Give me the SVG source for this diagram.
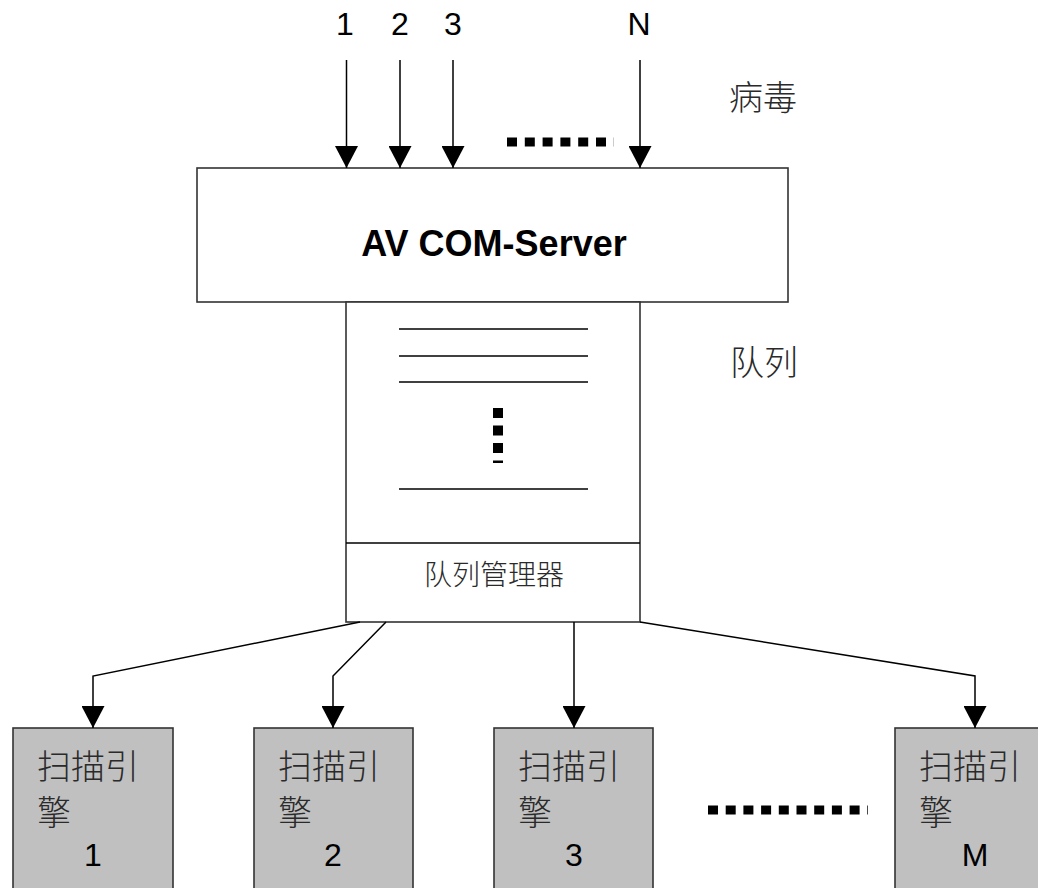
<svg xmlns="http://www.w3.org/2000/svg" width="1038" height="888" viewBox="0 0 1038 888">
<style>
.box{fill:#fff;stroke:#333;stroke-width:1.6}
.eng{fill:#c0c0c0;stroke:#333;stroke-width:1.6}
.ln{stroke:#000;stroke-width:1.5;fill:none}
.conn{stroke:#000;stroke-width:1.5;fill:none;marker-end:url(#ah)}
.dots{stroke:#000;fill:none}
.lat{font-family:"Liberation Sans",Arial,sans-serif;fill:#000}
.cjk{font-family:"Noto Sans CJK SC","Liberation Sans",sans-serif;font-weight:300;fill:#2a2a2a}
</style>
<defs>
<marker id="ah" viewBox="0 0 22 23" refX="22" refY="11.5" markerWidth="22" markerHeight="23" markerUnits="userSpaceOnUse" orient="auto">
<path d="M0,0 L22,11.5 L0,23 z" fill="#000"/>
</marker>
</defs>

<g id="input-labels">
<text class="lat" x="345" y="35" font-size="32" text-anchor="middle">1</text>
<text class="lat" x="400" y="35" font-size="32" text-anchor="middle">2</text>
<text class="lat" x="453" y="35" font-size="32" text-anchor="middle">3</text>
<text class="lat" x="639" y="35" font-size="32" text-anchor="middle">N</text>
<line class="dots" x1="507" y1="142" x2="614" y2="142" stroke-width="9" stroke-dasharray="10 7.8"/>
</g>

<g id="label-virus">
<text class="cjk" x="729" y="110" font-size="34">病毒</text>
</g>
<g id="label-queue">
<text class="cjk" x="730" y="375" font-size="34">队列</text>
</g>

<g id="av-com-server">
<rect class="box" x="197" y="168" width="591" height="134"/>
<text class="lat" x="494" y="256" font-size="36" font-weight="bold" text-anchor="middle">AV COM-Server</text>
</g>

<g id="queue">
<rect class="box" x="346" y="302" width="294" height="320"/>
<line class="ln" x1="399" y1="329" x2="588" y2="329"/>
<line class="ln" x1="399" y1="356" x2="588" y2="356"/>
<line class="ln" x1="399" y1="382" x2="588" y2="382"/>
<line class="dots" x1="498" y1="408" x2="498" y2="463" stroke-width="10" stroke-dasharray="10 7.5"/>
<line class="ln" x1="399" y1="489" x2="588" y2="489"/>
</g>

<g id="queue-manager">
<line class="ln" x1="346" y1="543" x2="640" y2="543" stroke="#333"/>
<text class="cjk" x="494" y="585" font-size="28" text-anchor="middle">队列管理器</text>
</g>

<g id="engine-1">
<rect class="eng" x="13" y="728" width="160" height="200"/>
<text class="cjk" x="37" y="779" font-size="34">扫描引</text>
<text class="cjk" x="37" y="825" font-size="34">擎</text>
<text class="lat" x="93" y="866" font-size="32" text-anchor="middle">1</text>
</g>
<g id="engine-2">
<rect class="eng" x="254" y="728" width="159" height="200"/>
<text class="cjk" x="278" y="779" font-size="34">扫描引</text>
<text class="cjk" x="278" y="825" font-size="34">擎</text>
<text class="lat" x="333" y="866" font-size="32" text-anchor="middle">2</text>
</g>
<g id="engine-3">
<rect class="eng" x="494" y="728" width="159" height="200"/>
<text class="cjk" x="518" y="779" font-size="34">扫描引</text>
<text class="cjk" x="518" y="825" font-size="34">擎</text>
<text class="lat" x="574" y="866" font-size="32" text-anchor="middle">3</text>
</g>
<g id="engine-m">
<rect class="eng" x="895" y="728" width="160" height="200"/>
<text class="cjk" x="919" y="779" font-size="34">扫描引</text>
<text class="cjk" x="919" y="825" font-size="34">擎</text>
<text class="lat" x="975" y="866" font-size="32" text-anchor="middle">M</text>
</g>
<g id="engine-ellipsis">
<line class="dots" x1="708" y1="810" x2="868" y2="810" stroke-width="9" stroke-dasharray="10 7.7"/>
</g>

<g id="connectors">
<line class="conn" x1="346.5" y1="60" x2="346.5" y2="168"/>
<line class="conn" x1="400" y1="60" x2="400" y2="168"/>
<line class="conn" x1="453" y1="60" x2="453" y2="168"/>
<line class="conn" x1="640" y1="60" x2="640" y2="168"/>
<polyline class="conn" points="360,622 93,676 93,728"/>
<polyline class="conn" points="386,622 333,676 333,728"/>
<line class="conn" x1="574" y1="622" x2="574" y2="728"/>
<polyline class="conn" points="640,622 975,676 975,728"/>
</g>
</svg>
